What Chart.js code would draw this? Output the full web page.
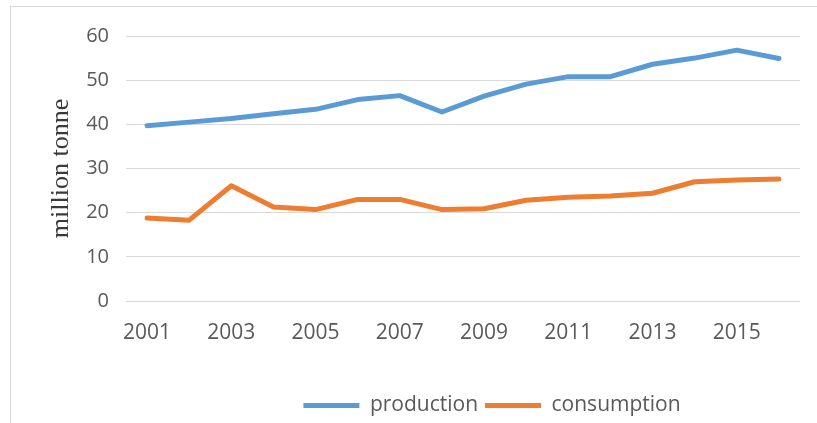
<!DOCTYPE html>
<html>
<head>
<meta charset="utf-8">
<script src="https://cdn.jsdelivr.net/npm/chart.js@4/dist/chart.umd.min.js"></script>
<style>
  html, body { margin: 0; padding: 0; background: #fff; }
  #wrap { position: relative; width: 817px; height: 423px; }
</style>
</head>
<body>
<div id="wrap"><canvas id="myChart" width="817" height="423"></canvas></div>
<script>
// data
const years = ["2001", "2002", "2003", "2004", "2005", "2006", "2007", "2008",
  "2009", "2010", "2011", "2012", "2013", "2014", "2015", "2016"];
const production = [39.7, 40.5, 41.3, 42.4, 43.4, 45.6, 46.5, 42.8,
  46.4, 49.1, 50.8, 50.8, 53.6, 55.0, 56.8, 54.9];
const consumption = [18.8, 18.3, 26.1, 21.3, 20.7, 23.0, 23.0, 20.7,
  20.9, 22.8, 23.5, 23.8, 24.4, 27.0, 27.4, 27.6];
const yTicks = [0, 10, 20, 30, 40, 50, 60];

const grey = "#595959";

// thin frame round the whole chart, like the office chart box
const frame = {
  id: "frame",
  beforeDraw(chart) {
    const c = chart.ctx;
    c.save();
    c.fillStyle = "#fff";
    c.fillRect(0, 0, chart.width, chart.height);
    c.strokeStyle = "#d9d9d9";
    c.lineWidth = 1;
    c.strokeRect(10.5, 6.5, chart.width + 10, chart.height + 10);
    c.restore();
  }
};

// legend sits off-centre in the original, nudge it right and a bit down
const legendShift = {
  id: "legendShift",
  afterLayout(chart) {
    chart.legend.left += 92;
    chart.legend.right += 92;
    chart.legend.top += 3;
    chart.legend.bottom += 3;
  }
};

var ctx = document.getElementById("myChart").getContext("2d");
var myChart = new Chart(ctx, {
  type: "line",
  data: {
    labels: years,
    datasets: [
      {
        label: "production",
        data: production,
        borderColor: "#5B9BD5",
        backgroundColor: "#5B9BD5",
        borderWidth: 5,
        borderJoinStyle: "round",
        borderCapStyle: "round",
        pointRadius: 0,
        pointStyle: "line",
        tension: 0,
      },
      {
        label: "consumption",
        data: consumption,
        borderColor: "#ED7D31",
        backgroundColor: "#ED7D31",
        borderWidth: 5,
        borderJoinStyle: "round",
        borderCapStyle: "round",
        pointRadius: 0,
        pointStyle: "line",
        tension: 0,
      },
    ],
  },
  options: {
    responsive: false,
    animation: false,
    events: [],
    layout: { padding: { top: 36, right: 17, bottom: 0, left: 0 } },
    plugins: {
      tooltip: { enabled: false },
      legend: {
        position: "bottom",
        labels: {
          usePointStyle: true,
          pointStyleWidth: 56,
          padding: 7,
          color: grey,
          font: { family: "Open Sans", size: 21 },
        },
      },
    },
    scales: {
      x: {
        offset: true,
        grid: { display: false, drawTicks: false },
        border: { display: false },
        ticks: {
          autoSkip: false,
          maxRotation: 0,
          minRotation: 0,
          padding: 19,
          color: grey,
          font: { family: "Open Sans", size: 21 },
          callback: function (v, i) { return i % 2 === 0 ? years[i] : ""; },
        },
        afterFit: function (s) { s.height = 84; },
      },
      y: {
        min: yTicks[0],
        max: yTicks[yTicks.length - 1],
        afterBuildTicks: function (s) { s.ticks = yTicks.map(v => ({ value: v })); },
        grid: { color: "#d9d9d9", lineWidth: 1, drawTicks: false },
        border: { display: false },
        ticks: {
          padding: 17,
          color: grey,
          font: { family: "Open Sans", size: 20 },
        },
        title: {
          display: true,
          text: "million tonne",
          color: "#3a3a3a",
          padding: { top: 46, bottom: 0 },
          font: { family: "Liberation Serif", size: 26, lineHeight: 1.2 },
        },
        afterFit: function (s) { s.width = 126; },
      },
    },
  },
  plugins: [frame, legendShift],
});
</script>
</body>
</html>
